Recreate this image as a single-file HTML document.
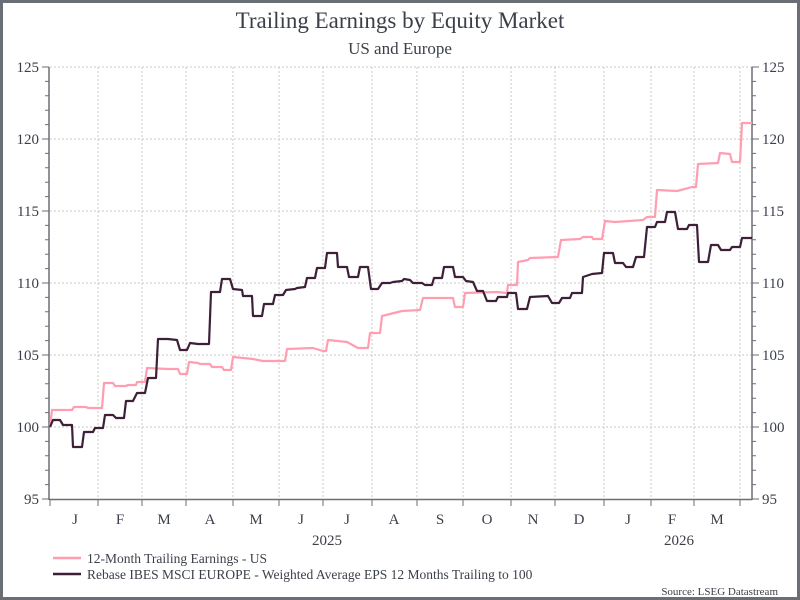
<!DOCTYPE html>
<html><head><meta charset="utf-8"><style>
html,body{margin:0;padding:0;background:#fff}
svg{display:block}
text{font-family:"Liberation Serif",serif;fill:#3a3f48}
</style></head><body>
<svg width="800" height="600" viewBox="0 0 800 600" xmlns="http://www.w3.org/2000/svg">
<rect x="1.5" y="1.5" width="797" height="597" fill="#fff" stroke="#6a6e75" stroke-width="3"/>
<text x="400" y="28" font-size="23" text-anchor="middle">Trailing Earnings by Equity Market</text>
<text x="400" y="54" font-size="17" text-anchor="middle">US and Europe</text>
<g stroke="#c8c8c8" stroke-width="1" stroke-dasharray="2,2">
<line x1="50" y1="67" x2="752" y2="67"/><line x1="50" y1="139" x2="752" y2="139"/><line x1="50" y1="211" x2="752" y2="211"/><line x1="50" y1="283" x2="752" y2="283"/><line x1="50" y1="355" x2="752" y2="355"/><line x1="50" y1="427" x2="752" y2="427"/>
<line x1="98" y1="67" x2="98" y2="499"/><line x1="142" y1="67" x2="142" y2="499"/><line x1="186" y1="67" x2="186" y2="499"/><line x1="233" y1="67" x2="233" y2="499"/><line x1="279" y1="67" x2="279" y2="499"/><line x1="323" y1="67" x2="323" y2="499"/><line x1="372" y1="67" x2="372" y2="499"/><line x1="417" y1="67" x2="417" y2="499"/><line x1="463" y1="67" x2="463" y2="499"/><line x1="511" y1="67" x2="511" y2="499"/><line x1="555" y1="67" x2="555" y2="499"/><line x1="604" y1="67" x2="604" y2="499"/><line x1="651" y1="67" x2="651" y2="499"/><line x1="694" y1="67" x2="694" y2="499"/><line x1="740" y1="67" x2="740" y2="499"/>
</g>
<g stroke="#6a6e75" stroke-width="1.5" fill="none">
<line x1="49" y1="67" x2="49" y2="500"/><line x1="752" y1="67" x2="752" y2="500"/><line x1="49" y1="499.5" x2="752" y2="499.5"/>
</g>
<g stroke="#6a6e75" stroke-width="1">
<path d="M42 67H49M42 139H49M42 211H49M42 283H49M42 355H49M42 427H49M42 499H49M752 67H759M752 139H759M752 211H759M752 283H759M752 355H759M752 427H759M752 499H759"/>
<path d="M45 81.4H49M45 95.8H49M45 110.2H49M45 124.6H49M45 153.4H49M45 167.8H49M45 182.2H49M45 196.6H49M45 225.4H49M45 239.8H49M45 254.2H49M45 268.6H49M45 297.4H49M45 311.8H49M45 326.2H49M45 340.6H49M45 369.4H49M45 383.8H49M45 398.2H49M45 412.6H49M45 441.4H49M45 455.8H49M45 470.2H49M45 484.6H49"/>
<path d="M752 81.4H756M752 95.8H756M752 110.2H756M752 124.6H756M752 153.4H756M752 167.8H756M752 182.2H756M752 196.6H756M752 225.4H756M752 239.8H756M752 254.2H756M752 268.6H756M752 297.4H756M752 311.8H756M752 326.2H756M752 340.6H756M752 369.4H756M752 383.8H756M752 398.2H756M752 412.6H756M752 441.4H756M752 455.8H756M752 470.2H756M752 484.6H756"/>
<path d="M50 499V506M98 499V506M142 499V506M186 499V506M233 499V506M279 499V506M323 499V506M372 499V506M417 499V506M463 499V506M511 499V506M555 499V506M604 499V506M651 499V506M694 499V506M740 499V506"/>
</g>
<g font-size="15" text-anchor="end">
<text x="39" y="72">125</text><text x="39" y="144">120</text><text x="39" y="216">115</text><text x="39" y="288">110</text><text x="39" y="360">105</text><text x="39" y="432">100</text><text x="39" y="504">95</text>
</g>
<g font-size="15">
<text x="762" y="72">125</text><text x="762" y="144">120</text><text x="762" y="216">115</text><text x="762" y="288">110</text><text x="762" y="360">105</text><text x="762" y="432">100</text><text x="762" y="504">95</text>
</g>
<g font-size="15" text-anchor="middle">
<text x="75" y="524">J</text><text x="120" y="524">F</text><text x="164" y="524">M</text><text x="210" y="524">A</text><text x="256" y="524">M</text><text x="301" y="524">J</text><text x="347" y="524">J</text><text x="394" y="524">A</text><text x="440" y="524">S</text><text x="487" y="524">O</text><text x="533" y="524">N</text><text x="579" y="524">D</text><text x="628" y="524">J</text><text x="672" y="524">F</text><text x="717" y="524">M</text>
<text x="327" y="545">2025</text><text x="679" y="545">2026</text>
</g>
<polyline fill="none" stroke="#ff9eb0" stroke-width="2.2" stroke-linejoin="round" points="50,427 52,410 72,410 74,407 86,407 88,408 102,408 104,383 113,383 115,386 126,386 128,385 136,385 137,382 145,382 147,368 168,369 178,369 180,374 187,374 189,362 198,363 200,364 210,364 212,367 222,367 224,370 231,370 233,357 253,359 263,361 285,361 287,349 313,348 323,351 326,351 328,340 347,342 358,348 368,348 370,333 380,333 382,316 390,314 402,311 420,310 423,298 453,298 455,307 463,307 465,293 497,292 507,293 508,285 517,285 518,262 528,260 530,258 558,257 561,240 580,239 583,237 592,237 593,239 602,239 605,221 615,222 643,220 647,217 655,217 657,190 677,191 681,190 692,187 696,187 698,164 718,163 720,153 730,154 732,162 740,162 742,123 752,123"/>
<polyline fill="none" stroke="#3d1f38" stroke-width="2.2" stroke-linejoin="round" points="50,427 53,420 60,420 63,425 72,425 73,447 82,447 84,432 93,432 95,428 103,428 105,415 113,415 116,418 124,418 126,401 133,401 137,393 145,393 148,378 156,378 158,339 168,339 177,340 180,350 187,350 190,343 198,344 209,344 211,292 220,292 222,279 230,279 233,289 242,290 243,296 252,296 253,316 262,316 264,304 273,304 275,295 283,295 286,290 295,289 297,288 305,287 307,278 315,278 317,268 325,268 327,253 337,253 338,267 347,267 349,277 358,277 360,267 368,267 371,289 378,289 382,283 390,283 393,282 402,281 404,279 410,280 413,283 422,283 425,285 432,285 434,278 442,278 444,267 453,267 455,277 463,277 466,281 473,282 477,291 483,291 487,301 496,301 498,297 507,297 508,293 516,293 518,309 527,309 530,297 548,296 552,303 559,303 562,298 570,298 572,293 582,293 583,277 592,274 602,273 604,253 613,253 615,263 623,263 626,267 633,267 636,257 644,257 647,227 655,227 657,222 665,222 667,212 675,212 678,229 687,229 689,225 697,225 699,262 708,262 711,245 718,245 721,250 730,250 732,247 740,247 742,238 752,238"/>
<line x1="53" y1="558" x2="81" y2="558" stroke="#ff9eb0" stroke-width="2.5"/>
<line x1="53" y1="574" x2="81" y2="574" stroke="#3d1f38" stroke-width="2.5"/>
<g font-size="13.5">
<text x="87" y="563">12-Month Trailing Earnings - US</text>
<text x="87" y="579">Rebase IBES MSCI EUROPE - Weighted Average EPS 12 Months Trailing to 100</text>
</g>
<text x="778" y="595" font-size="11" text-anchor="end">Source: LSEG Datastream</text>
</svg>
</body></html>
